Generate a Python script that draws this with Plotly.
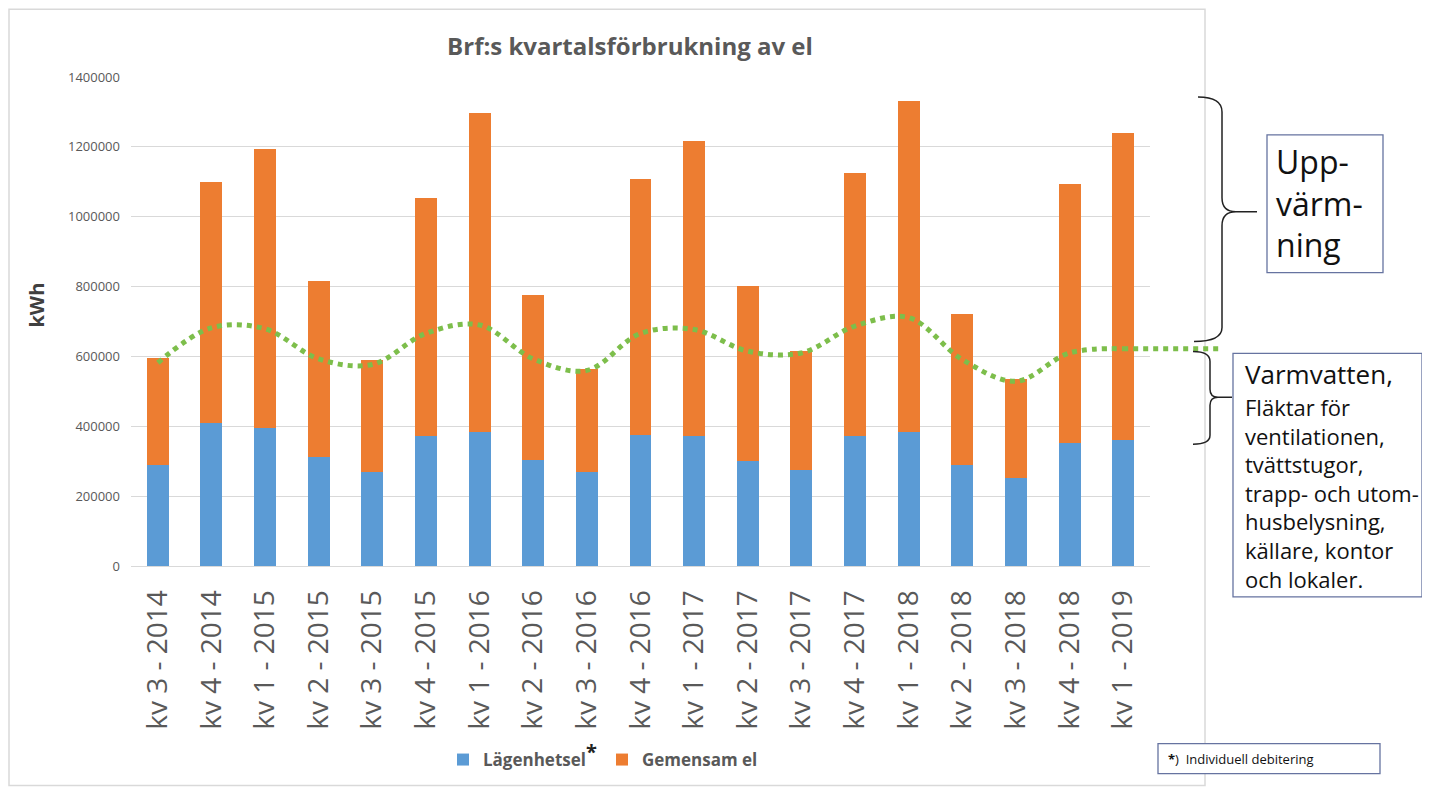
import plotly.graph_objects as go

# ---------------- data ----------------
categories = ["kv 3 - 2014", "kv 4 - 2014", "kv 1 - 2015", "kv 2 - 2015", "kv 3 - 2015",
              "kv 4 - 2015", "kv 1 - 2016", "kv 2 - 2016", "kv 3 - 2016", "kv 4 - 2016",
              "kv 1 - 2017", "kv 2 - 2017", "kv 3 - 2017", "kv 4 - 2017", "kv 1 - 2018",
              "kv 2 - 2018", "kv 3 - 2018", "kv 4 - 2018", "kv 1 - 2019"]
lagenhetsel = [289000, 408000, 394000, 313000, 270000, 371000, 383000, 303000, 270000, 376000,
               372000, 301000, 275000, 372000, 384000, 289000, 253000, 353000, 361000]
gemensam_el = [306000, 691000, 800000, 502000, 319000, 683000, 915000, 472000, 295000, 733000,
               845000, 500000, 340000, 753000, 947000, 433000, 283000, 740000, 878000]
baslinje = [582000, 682000, 679000, 593000, 577000, 666000, 690000, 593000, 560000, 666000,
            677000, 615000, 610000, 687000, 711000, 591000, 529000, 610000, 622000]
y_ticks = [0, 200000, 400000, 600000, 800000, 1000000, 1200000, 1400000]

# ---------------- layout geometry (screen pixels) ----------------
OFF = 8                      # page body margin
SCR_W, SCR_H = 1430, 789
W_FIG, H_FIG = SCR_W - OFF, SCR_H - OFF
L, R, T, B = 131, 1150, 77, 567
PW, PH = R - L, B - T


def px(x):
    return (x - L) / PW


def py(y):
    return (B - y) / PH


def path(cmds):
    out = []
    for c in cmds:
        if isinstance(c, str):
            out.append(c)
        else:
            out.append(f"{px(c[0]):.5f},{py(c[1]):.5f}")
    return " ".join(out)


FONT = "Open Sans, Liberation Sans, sans-serif"
GRAY = "#595959"
BLUE = "#5B9BD5"
ORANGE = "#ED7D31"
GREEN = "#7DBE4B"
BOXC = "#6673A0"

fig = go.Figure()
fig.add_trace(go.Bar(x=categories, y=lagenhetsel,
                     name="Lägenhetsel<sup><span style='font-size:20px;color:#222'><b>*</b></span></sup>",
                     marker=dict(color=BLUE, line=dict(width=0))))
fig.add_trace(go.Bar(x=categories, y=gemensam_el, name="Gemensam el",
                     marker=dict(color=ORANGE, line=dict(width=0))))
fig.add_trace(go.Scatter(x=categories, y=baslinje, mode="lines", showlegend=False,
                         line=dict(color=GREEN, width=5, dash="dot", shape="spline", smoothing=1.0),
                         hoverinfo="skip"))

n = len(categories)
shapes = [
    # outer frame
    dict(type="rect", xref="paper", yref="paper", x0=px(9), x1=px(1205), y0=py(787), y1=py(9),
         line=dict(color="#d9d9d9", width=1.5), layer="below"),
    # extension of the green line to the brace
    dict(type="line", xref="paper", yref="y", x0=(n - 0.5) / n, x1=px(1220),
         y0=baslinje[-1], y1=baslinje[-1], line=dict(color=GREEN, width=5, dash="dot")),
    # upper brace
    dict(type="path", xref="paper", yref="paper",
         path=path(["M", (1198, 97), "Q", (1222, 97), (1222, 112), "L", (1222, 198),
                    "Q", (1222, 212), (1236, 212), "L", (1257, 212),
                    "M", (1236, 212), "Q", (1222, 212), (1222, 226), "L", (1222, 328),
                    "Q", (1222, 342), (1194, 342)]),
         line=dict(color="#222222", width=1.5)),
    # lower brace
    dict(type="path", xref="paper", yref="paper",
         path=path(["M", (1193, 352), "Q", (1210, 352), (1210, 362), "L", (1210, 390),
                    "Q", (1210, 398), (1218, 398), "L", (1232, 398),
                    "M", (1218, 398), "Q", (1210, 398), (1210, 406), "L", (1210, 436),
                    "Q", (1210, 445), (1193, 445)]),
         line=dict(color="#222222", width=1.5)),
    # boxes
    dict(type="rect", xref="paper", yref="paper", x0=px(1267), x1=px(1383), y0=py(273), y1=py(135),
         line=dict(color=BOXC, width=1.3), fillcolor="white"),
    dict(type="rect", xref="paper", yref="paper", x0=px(1233), x1=px(1422), y0=py(598), y1=py(354),
         line=dict(color=BOXC, width=1.3), fillcolor="white"),
    dict(type="rect", xref="paper", yref="paper", x0=px(1158), x1=px(1380), y0=py(775), y1=py(745),
         line=dict(color=BOXC, width=1.3), fillcolor="white"),
]

annotations = [
    dict(text="kWh", xref="paper", yref="paper", x=px(37), y=py(306), textangle=-90,
         showarrow=False, font=dict(family=FONT, size=20, color="#404040", weight="bold"),
         xanchor="center", yanchor="middle"),
    dict(text="Upp-<br>värm-<br>ning", xref="paper", yref="paper", x=px(1274), y=py(203),
         showarrow=False, align="left", xanchor="left", yanchor="middle",
         font=dict(family=FONT, size=32, color="#111111")),
    dict(text="Varmvatten,", xref="paper", yref="paper", x=px(1243), y=py(375),
         showarrow=False, align="left", xanchor="left", yanchor="middle",
         font=dict(family=FONT, size=26, color="#111111")),
    dict(text="Fläktar för<br>ventilationen,<br>tvättstugor,<br>trapp- och utom-<br>husbelysning,<br>"
              "källare, kontor<br>och lokaler.",
         xref="paper", yref="paper", x=px(1243), y=py(494),
         showarrow=False, align="left", xanchor="left", yanchor="middle",
         font=dict(family=FONT, size=22, color="#111111")),
    dict(text="<b>*</b>)  Individuell debitering", xref="paper", yref="paper", x=px(1166), y=py(760),
         showarrow=False, align="left", xanchor="left", yanchor="middle",
         font=dict(family=FONT, size=13, color="#111111")),
]

fig.update_layout(
    width=W_FIG, height=H_FIG,
    margin=dict(l=L - OFF, r=SCR_W - R, t=T - OFF, b=SCR_H - B, pad=0),
    paper_bgcolor="white", plot_bgcolor="white",
    barmode="stack", bargap=0.59,
    font=dict(family=FONT, color=GRAY),
    title=dict(text="<b>Brf:s kvartalsförbrukning av el</b>", x=(630 - OFF) / W_FIG, xanchor="center",
               y=1 - (47 - OFF) / H_FIG, yanchor="middle", xref="container", yref="container",
               font=dict(family=FONT, size=24, color=GRAY)),
    xaxis=dict(type="category", tickangle=-90, tickfont=dict(family=FONT, size=28, color=GRAY),
               showline=True, linecolor="#d9d9d9", linewidth=1, showgrid=False, ticks="",
               ticklabelstandoff=12),
    yaxis=dict(range=[0, 1400000], tickvals=y_ticks, ticktext=[str(v) for v in y_ticks],
               tickfont=dict(family=FONT, size=13, color=GRAY), showgrid=True,
               gridcolor="#d9d9d9", gridwidth=1, zeroline=False, showline=False, ticks="",
               ticklabelstandoff=10),
    legend=dict(orientation="h", x=px(603), xanchor="center", y=py(760), yanchor="middle",
                font=dict(family=FONT, size=17, color=GRAY, weight="bold"),
                traceorder="normal", itemsizing="constant", bgcolor="rgba(0,0,0,0)"),
    shapes=shapes,
    annotations=annotations,
    showlegend=True,
)

fig.write_html("out.html")
